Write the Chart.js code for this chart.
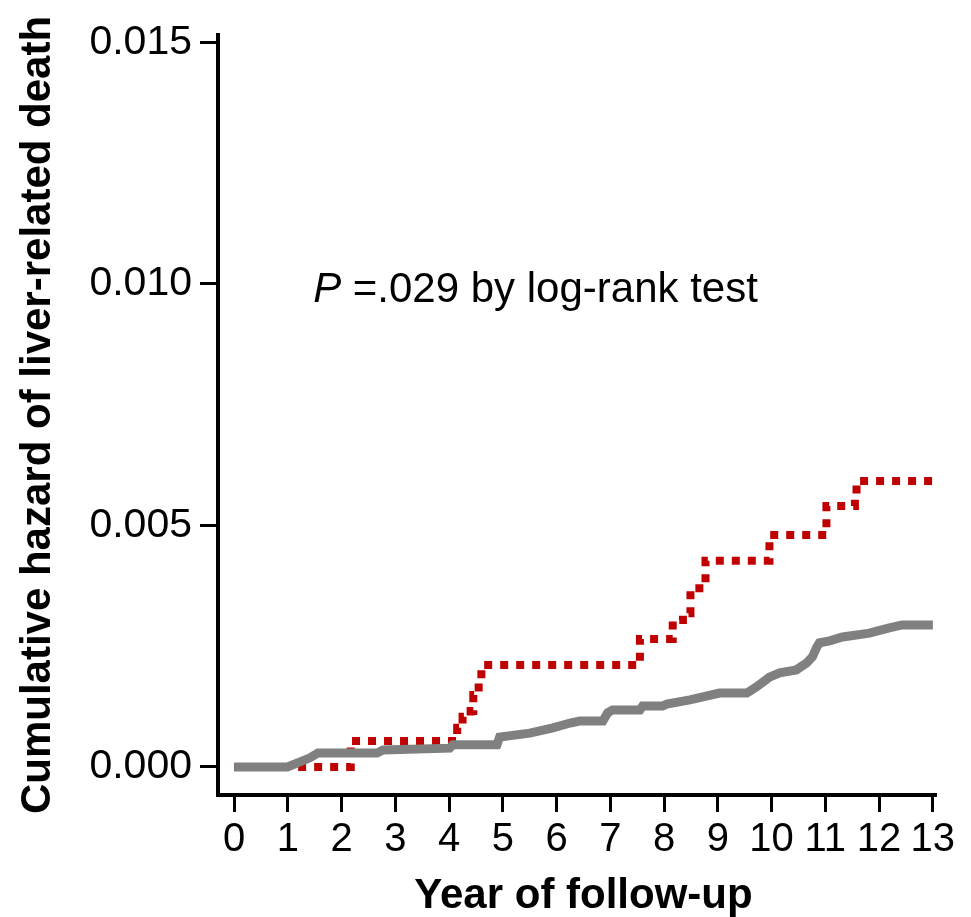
<!DOCTYPE html>
<html>
<head>
<meta charset="utf-8">
<script src="https://cdn.jsdelivr.net/npm/chart.js@4.4.1/dist/chart.umd.min.js"></script>
<style>
html, body { margin: 0; padding: 0; background: #fff; }
#wrap { width: 971px; height: 917px; }
</style>
</head>
<body>
<div id="wrap"><canvas id="hazardChart"></canvas></div>
<script>
const xTickValues = [0, 1, 2, 3, 4, 5, 6, 7, 8, 9, 10, 11, 12, 13];
const xTickLabels = ["0", "1", "2", "3", "4", "5", "6", "7", "8", "9", "10", "11", "12", "13"];
const yTickValues = [0, 0.005, 0.010, 0.015];
const yTickLabels = ["0.000", "0.005", "0.010", "0.015"];

// gray solid curve
const grayYears = [0, 0.99, 1.17, 1.41, 1.56, 2.66, 2.77, 4.01, 4.07, 4.89, 4.94, 5.50, 5.93, 6.25, 6.43, 6.86, 6.95, 7.04, 7.55, 7.60, 7.97, 8.05, 8.48, 9.03, 9.54, 9.72, 9.96, 10.15, 10.46, 10.65, 10.76, 10.84, 10.89, 11.08, 11.32, 11.82, 12.19, 12.43, 13.0];
const grayHazard = [0, 0, 0.00008, 0.00019, 0.00029, 0.00029, 0.00035, 0.00039, 0.00046, 0.00046, 0.00062, 0.00070, 0.00081, 0.00091, 0.00095, 0.00095, 0.00112, 0.00118, 0.00118, 0.00126, 0.00126, 0.00130, 0.00139, 0.00153, 0.00153, 0.00166, 0.00186, 0.00195, 0.00201, 0.00215, 0.00228, 0.00248, 0.00257, 0.00261, 0.00269, 0.00277, 0.00288, 0.00294, 0.00294];

// red dotted step curve
const redYears = [0, 2.17, 4.15, 4.25, 4.40, 4.45, 4.55, 4.60, 7.55, 8.16, 8.35, 8.49, 8.77, 9.96, 11.02, 11.55, 11.58, 13.0];
const redHazard = [0, 0.00054, 0.00081, 0.00104, 0.00116, 0.00149, 0.00174, 0.00211, 0.00265, 0.00304, 0.00318, 0.00370, 0.00427, 0.00480, 0.00540, 0.00555, 0.00592, 0.00592];

const pLabelAt = [1.47, 0.00963];
const xTitle = "Year of follow-up";
const yTitle = "Cumulative hazard of liver-related death";

const fontFamily = '"Liberation Sans", Arial, sans-serif';
Chart.defaults.font.family = fontFamily;
Chart.defaults.color = "#000";

function toPoints(xs, ys){
    return xs.map((x, i) => ({x: x, y: ys[i]}));
}

//text drawn on top: P-value note and x title
const textPlugin = {
    id: "textPlugin",
    afterDraw(chart){
        const ctx = chart.ctx;
        const xs = chart.scales.x;
        const ys = chart.scales.y;
        ctx.save();
        ctx.fillStyle = "#000";
        ctx.textBaseline = "alphabetic";
        ctx.textAlign = "left";
        let px = xs.getPixelForValue(pLabelAt[0]);
        const py = ys.getPixelForValue(pLabelAt[1]);
        ctx.font = "italic 42px " + fontFamily;
        ctx.fillText("P", px, py);
        px += ctx.measureText("P").width;
        ctx.font = "42px " + fontFamily;
        ctx.fillText(" =.029 by log-rank test", px, py);

        ctx.font = "bold 42px " + fontFamily;
        ctx.textAlign = "center";
        const cx = (xs.getPixelForValue(xTickValues[0]) + xs.getPixelForValue(xTickValues[xTickValues.length - 1])) / 2;
        ctx.fillText(xTitle, cx, chart.height - 9);
        ctx.restore();
    }
};

const axisGrid = {
    drawOnChartArea: false,
    drawTicks: true,
    tickLength: 17,
    tickWidth: 3,
    tickColor: "#000",
    lineWidth: 3,
    color: "#000"
};

new Chart(document.getElementById("hazardChart"), {
    type: "line",
    data: {
        datasets: [
            {
                label: "gray",
                data: toPoints(grayYears, grayHazard),
                borderColor: "#808080",
                borderWidth: 9,
                pointRadius: 0,
                tension: 0,
                fill: false
            },
            {
                label: "red",
                data: toPoints(redYears, redHazard),
                borderColor: "#c00000",
                borderWidth: 8,
                borderDash: [8, 8],
                borderCapStyle: "butt",
                stepped: "before",
                pointRadius: 0,
                fill: false
            }
        ]
    },
    options: {
        responsive: true,
        maintainAspectRatio: false,
        animation: false,
        layout: { padding: { top: 35, right: 36, bottom: 0, left: 0 } },
        plugins: { legend: { display: false }, tooltip: { enabled: false } },
        scales: {
            x: {
                type: "linear",
                min: -0.3,
                max: 13.04,
                afterBuildTicks: s => { s.ticks = xTickValues.map(v => ({value: v})); },
                afterFit: s => { s.height = 122; },
                ticks: {
                    callback: (v, i) => xTickLabels[i],
                    font: { size: 40 },
                    padding: 4,
                    maxRotation: 0,
                    autoSkip: false
                },
                grid: axisGrid,
                border: { display: true, color: "#000", width: 4 }
            },
            y: {
                type: "linear",
                min: -0.00058,
                max: 0.01515,
                afterBuildTicks: s => { s.ticks = yTickValues.map(v => ({value: v})); },
                afterFit: s => { s.width = 218; },
                ticks: {
                    callback: (v, i) => yTickLabels[i],
                    font: { size: 41 },
                    padding: 8
                },
                grid: Object.assign({}, axisGrid, { tickLength: 18 }),
                border: { display: true, color: "#000", width: 4 },
                title: {
                    display: true,
                    text: yTitle,
                    font: { size: 42, weight: "bold" },
                    padding: { top: 13, bottom: 0 }
                }
            }
        }
    },
    plugins: [textPlugin]
});
</script>
</body>
</html>
